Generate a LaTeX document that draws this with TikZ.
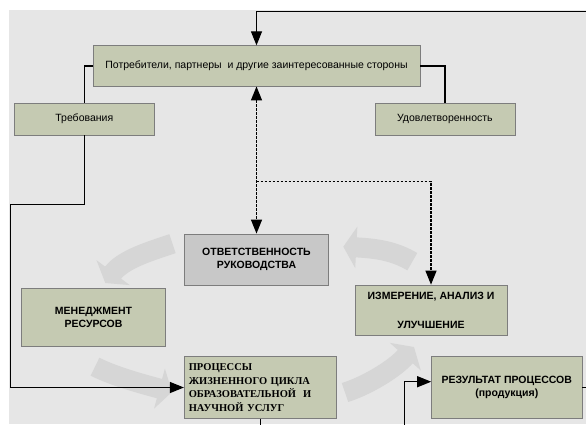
\documentclass[tikz,border=0pt]{standalone}
\usepackage{fontspec}
\setmainfont{Liberation Sans}
\newfontfamily\procfont{Liberation Serif}
\usepackage{tikz}
\usetikzlibrary{arrows.meta, positioning, calc}
\definecolor{bggray}{RGB}{230,230,230}
\definecolor{cycgray}{RGB}{214,214,214}
\definecolor{olivebox}{RGB}{197,202,178}
\definecolor{darkbox}{RGB}{200,200,200}
\definecolor{boxline}{RGB}{125,125,125}

\begin{document}
\begin{tikzpicture}[
    x=1pt, y=-1pt,
    block/.style={rectangle, draw=boxline, fill=olivebox, line width=0.8pt, inner sep=2pt, align=center, font=\fontsize{10.5}{13.4}\selectfont},
    capblock/.style={block, font=\fontsize{10.5}{13.4}\selectfont\bfseries},
    link/.style={line width=1.2pt},
    arrow/.style={link, -{Triangle[length=14pt, width=11pt]}},
    dlink/.style={line width=1.2pt, dash pattern=on 2.5pt off 1.5pt},
    cycarrow/.style={line width=20pt, draw=cycgray, -{Triangle[length=13pt, width=41pt]}}
]
\useasboundingbox (0,0) rectangle (586,424);
\fill[bggray] (9.3,10) rectangle (586,424);

% grey cycle arrows
\draw[cycarrow] (172.5,243.7) .. controls (151.6,250.7) and (123.3,259) .. (105.3,283);
\draw[cycarrow] (412.3,261.7) .. controls (395.1,251.5) and (378.3,248.5) .. (343.3,246.7);
\draw[cycarrow] (95,366.7) .. controls (114.6,376.6) and (143.2,384.2) .. (172,392);
\draw[cycarrow] (345,392.5) .. controls (366.1,385.9) and (393.9,369.5) .. (414,347);

\node[block, minimum width=327pt, minimum height=40.3pt] (stake) at (256.5,65.9) {Потребители, партнеры~ и другие заинтересованные стороны};
\node[block, minimum width=140pt, minimum height=31.7pt] (treb) at (84.3,119.2) {Требования};
\node[block, minimum width=140pt, minimum height=31.7pt] (udov) at (444.9,119.2) {Удовлетворенность};
\node[capblock, fill=darkbox, minimum width=144pt, minimum height=51pt] (otv) at (256.5,259.5) {ОТВЕТСТВЕННОСТЬ\\РУКОВОДСТВА};
\node[capblock, minimum width=144.3pt, minimum height=58.4pt] (men) at (93.5,317.5) {МЕНЕДЖМЕНТ\\РЕСУРСОВ};
\node[capblock, minimum width=152pt, minimum height=50.7pt] (izm) at (431,310.4) {ИЗМЕРЕНИЕ, АНАЛИЗ И\\[15.6pt]УЛУЧШЕНИЕ};
\node[capblock, font=\procfont\fontsize{10.5}{13.4}\selectfont\bfseries, align=left, text width=143pt, inner xsep=4.5pt, minimum width=152pt, minimum height=61.6pt] (proc) at (260.3,387.5) {ПРОЦЕССЫ\\ЖИЗНЕННОГО ЦИКЛА\\ОБРАЗОВАТЕЛЬНОЙ~ И\\НАУЧНОЙ УСЛУГ};
\node[capblock, minimum width=150.4pt, minimum height=61.6pt] (res) at (506.8,387.5) {РЕЗУЛЬТАТ ПРОЦЕССОВ\\(продукция)};

% solid connectors
\draw[link] (stake.west) -| (treb.north);
\draw[link] (stake.east) -| (udov.north);
\coordinate (turnL) at (10.1,204.3);
\draw[arrow] (treb.south) |- (turnL) |- (proc.west);
\coordinate (fbR) at (588,11.5);
\draw[arrow] (res.east) -| (fbR) -| (stake.north);
\coordinate (procout) at (260.3,430);
\draw[link] (proc.south) -- (procout);
\coordinate (resin) at (404.7,430);
\draw[arrow] (resin) |- ([yshift=5.8pt]res.west);

% dashed connectors
\draw[dlink, {Triangle[length=14pt, width=11pt]}-{Triangle[length=14pt, width=11pt]}] (stake.south) -- (otv.north);
\coordinate (dsplit) at (256.5,181.7);
\draw[dlink, -{Triangle[length=14pt, width=11pt]}] (dsplit) -| (izm.north);
\end{tikzpicture}
\end{document}
